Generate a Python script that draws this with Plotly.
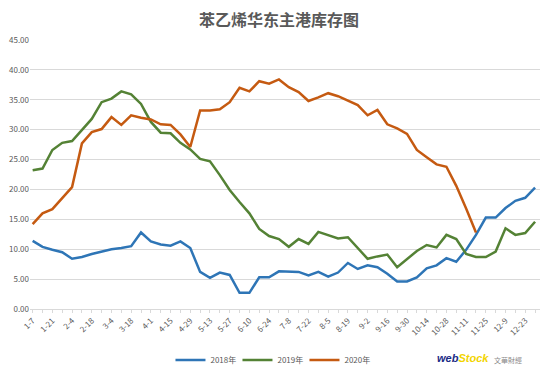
import plotly.graph_objects as go

weeks = ["1-7", "1-14", "1-21", "1-28", "2-4", "2-11", "2-18", "2-25", "3-4", "3-11",
         "3-18", "3-25", "4-1", "4-8", "4-15", "4-22", "4-29", "5-6", "5-13", "5-20",
         "5-27", "6-3", "6-10", "6-17", "6-24", "7-1", "7-8", "7-15", "7-22", "7-29",
         "8-5", "8-12", "8-19", "8-26", "9-2", "9-9", "9-16", "9-23", "9-30", "10-7",
         "10-14", "10-21", "10-28", "11-4", "11-11", "11-18", "11-25", "12-2", "12-9", "12-16",
         "12-23", "12-30"]

tick_labels = weeks[::2]

s2018 = [11.4, 10.4, 9.9, 9.5, 8.4, 8.7, 9.2, 9.6, 10.0, 10.2,
         10.5, 12.8, 11.3, 10.8, 10.6, 11.3, 10.2, 6.2, 5.2, 6.1,
         5.7, 2.7, 2.7, 5.3, 5.3, 6.3, 6.3, 6.2, 5.6, 6.2,
         5.4, 6.1, 7.7, 6.7, 7.3, 7.0, 5.9, 4.6, 4.6, 5.3,
         6.8, 7.3, 8.5, 7.9, 9.9, 12.4, 15.3, 15.3, 16.9, 18.1,
         18.6, 20.3]

s2019 = [23.2, 23.5, 26.6, 27.8, 28.1, 29.9, 31.8, 34.6, 35.2, 36.4,
         35.9, 34.3, 31.3, 29.5, 29.4, 27.8, 26.7, 25.1, 24.7, 22.4,
         19.9, 17.9, 16.0, 13.4, 12.2, 11.7, 10.4, 11.7, 10.9, 12.9,
         12.4, 11.8, 12.0, 10.2, 8.4, 8.8, 9.1, 7.0, 8.4, 9.7,
         10.7, 10.3, 12.4, 11.7, 9.2, 8.7, 8.7, 9.6, 13.5, 12.4,
         12.7, 14.6]

s2020 = [14.2, 16.0, 16.7, 18.5, 20.4, 27.7, 29.6, 30.1, 32.1, 30.8,
         32.4, 32.0, 31.7, 30.9, 30.8, 29.2, 27.1, 33.2, 33.2, 33.4,
         34.6, 37.0, 36.4, 38.1, 37.7, 38.4, 37.1, 36.3, 34.8, 35.4,
         36.1, 35.6, 34.9, 34.1, 32.4, 33.3, 30.9, 30.2, 29.3, 26.6,
         25.4, 24.2, 23.8, 20.6, 16.8, 12.8]

series_names = ["2018年", "2019年", "2020年"]
colors = ["#2E75B6", "#548235", "#C55A11"]

fig = go.Figure()
for name, vals, col in zip(series_names, [s2018, s2019, s2020], colors):
    fig.add_trace(go.Scatter(
        x=weeks[:len(vals)], y=vals, mode="lines", name=name,
        line=dict(color=col, width=2.5)))

ticktext = [w if w in tick_labels else "" for w in weeks]

# page body has an 8px default margin; figure is sized to compensate
fig.update_layout(
    width=542, height=369,
    margin=dict(l=22, r=10, t=32, b=68, autoexpand=False),
    paper_bgcolor="white", plot_bgcolor="white",
    font=dict(family="Noto Sans CJK SC, Noto Sans, sans-serif", color="#595959", size=8),
    title=dict(text="<b>苯乙烯华东主港库存图</b>", x=0.5, xanchor="center",
               y=0.9675, yanchor="middle", yref="container",
               font=dict(size=16, color="#595959",
                         family="Noto Sans CJK SC, sans-serif")),
    showlegend=True,
    legend=dict(orientation="h", x=0.4725, xanchor="center",
                y=0.046, yanchor="middle", yref="container",
                font=dict(size=8, color="#595959"), itemwidth=30,
                entrywidth=22, entrywidthmode="pixels",
                bgcolor="rgba(0,0,0,0)"),
    xaxis=dict(type="category", categoryorder="array", categoryarray=weeks,
               range=[-0.27, 51.5], tickmode="array", tickvals=weeks, ticktext=ticktext,
               tickangle=-45, ticks="outside", ticklen=3, tickcolor="#d9d9d9",
               showline=True, linecolor="#d9d9d9", linewidth=1, showgrid=False,
               automargin=False,
               tickfont=dict(size=8, color="#595959")),
    yaxis=dict(range=[0, 45], dtick=5, tickformat=".2f", showgrid=True,
               gridcolor="#d9d9d9", gridwidth=1, zeroline=False, showline=False,
               automargin=False,
               tickfont=dict(size=8, color="#595959")),
    annotations=[
        dict(text="<b><i><span style='color:#1b2c86'>web</span><span style='color:#f2d400'>Stock</span></i></b>",
             xref="paper", yref="paper", x=0.795, y=-0.181, xanchor="left", yanchor="middle",
             showarrow=False, font=dict(size=11, family="Liberation Sans, Arial, sans-serif")),
        dict(text="文華財經", xref="paper", yref="paper", x=0.906, y=-0.19,
             xanchor="left", yanchor="middle", showarrow=False,
             font=dict(size=7, color="#8c8c8c")),
    ],
)

fig.write_html("out.html")
